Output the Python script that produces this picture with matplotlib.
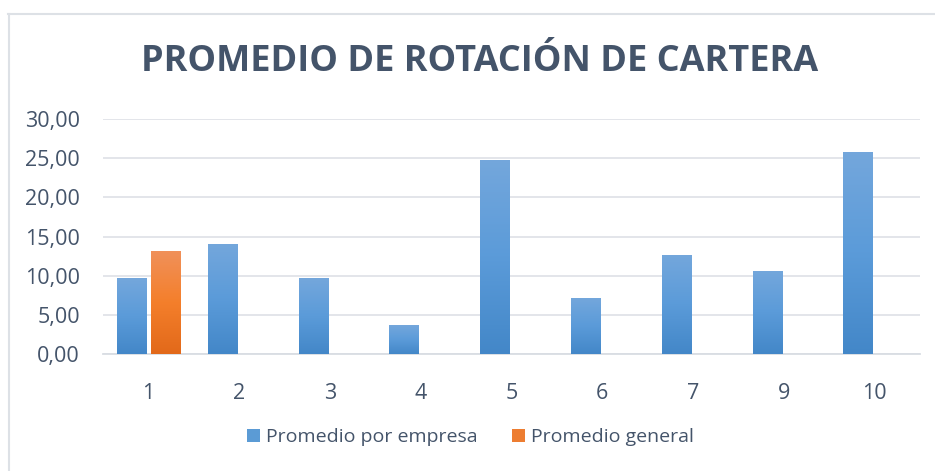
import numpy as np
import matplotlib
matplotlib.use("Agg")
import matplotlib.pyplot as plt
from matplotlib.lines import Line2D
from matplotlib.patches import Patch
from matplotlib.colors import LinearSegmentedColormap
from matplotlib.ticker import FuncFormatter

# ==========================
# DATA
# ==========================
categorias = ["1", "2", "3", "4", "5", "6", "7", "9", "10"]
promedio_empresa = [9.70, 14.05, 9.70, 3.70, 24.77, 7.15, 12.64, 10.60, 25.79]
promedio_general = [13.15, np.nan, np.nan, np.nan, np.nan, np.nan, np.nan, np.nan, np.nan]

titulo = "PROMEDIO DE ROTACIÓN DE CARTERA"
serie_nombres = ["Promedio por empresa", "Promedio general"]

texto = "#44546A"
grid_col = "#E0E3E8"

plt.rcParams["font.family"] = ["Open Sans", "DejaVu Sans"]

fig = plt.figure(figsize=(9.35, 4.71), dpi=100)
ax = fig.add_axes([0.110, 0.2484, 0.874, 0.4989])

x = np.arange(len(categorias))
ancho = 0.32
desp = 0.185

azul = LinearSegmentedColormap.from_list("azul", ["#4387C8", "#5B9BD9", "#74A7DC"])
naranja = LinearSegmentedColormap.from_list("naranja", ["#E2691A", "#F47F2B", "#F0915B"])

b1 = ax.bar(x - desp, promedio_empresa, ancho, color="#5B9BD5", zorder=3)
b2 = ax.bar(x + desp, promedio_general, ancho, color="#ED7D31", zorder=3)

# gradient fill inside each bar
grad = np.linspace(0, 1, 256).reshape(-1, 1)
for barras, cmap in [(b1, azul), (b2, naranja)]:
    for p in barras:
        h = p.get_height()
        if not np.isfinite(h) or h <= 0:
            continue
        x0 = p.get_x()
        w = p.get_width()
        im = ax.imshow(grad, cmap=cmap, aspect="auto", origin="lower",
                       extent=[x0, x0 + w, 0, h], zorder=4)
        im.set_clip_path(p)

ax.set_xlim(-0.5, len(categorias) - 0.5)
ax.set_ylim(0, 30)
ax.set_yticks(np.arange(0, 31, 5))
ax.yaxis.set_major_formatter(FuncFormatter(lambda v, pos: f"{v:.2f}".replace(".", ",")))
ax.set_xticks(x)
ax.set_xticklabels(categorias)

ax.grid(axis="y", color=grid_col, linewidth=1.3, zorder=0)
ax.set_axisbelow(True)
for s in ["top", "right", "left"]:
    ax.spines[s].set_visible(False)
ax.spines["bottom"].set_color("#D9DDE3")
ax.spines["bottom"].set_linewidth(1.3)

ax.tick_params(axis="both", length=0, labelsize=15.5, labelcolor=texto)
ax.tick_params(axis="x", pad=21)
ax.tick_params(axis="y", pad=16.5)

fig.text(0.513, 1 - 62 / 471, titulo, ha="center", va="center",
         fontsize=26, fontweight="bold", color=texto)

handles = [Patch(facecolor="#5B9BD5"), Patch(facecolor="#ED7D31")]
fig.legend(handles, serie_nombres, loc="center", bbox_to_anchor=(0.503, 1 - 437 / 471),
           ncol=2, frameon=False, fontsize=14, labelcolor=texto,
           handlelength=0.65, handleheight=0.65, handletextpad=0.3, columnspacing=1.8)

# chart frame (partially visible)
fig.add_artist(Line2D([8.5 / 935, 8.5 / 935], [0, 1 - 14 / 471], transform=fig.transFigure,
                      color="#DDE1E6", linewidth=1.5))
fig.add_artist(Line2D([8 / 935, 1], [1 - 14 / 471, 1 - 14 / 471], transform=fig.transFigure,
                      color="#DDE1E6", linewidth=1.5))

plt.savefig("out.png", dpi=100)
